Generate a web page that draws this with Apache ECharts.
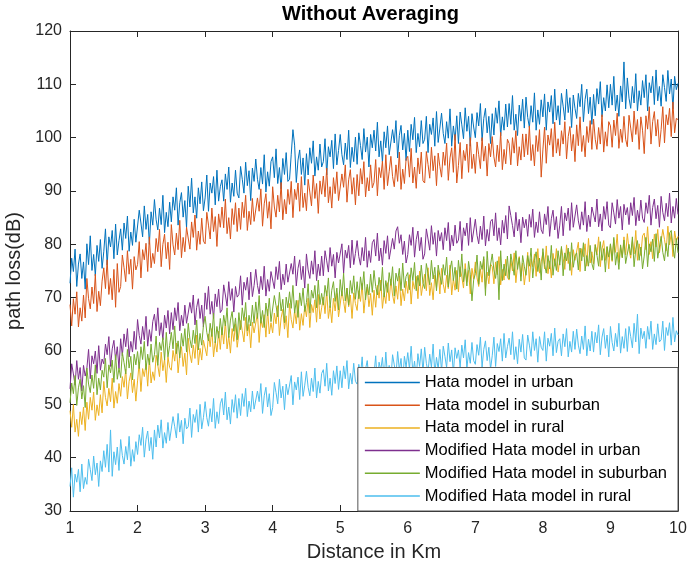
<!DOCTYPE html>
<html>
<head>
<meta charset="utf-8">
<title>Without Averaging</title>
<script src="https://cdn.jsdelivr.net/npm/echarts@6/dist/echarts.min.js"></script>
<style>
html, body { margin: 0; padding: 0; background: #fff; }
#chart { width: 687px; height: 573px; }
</style>
</head>
<body>
<div id="chart"></div>
<script>
// distance samples: 1 km to 10 km, every 0.025 km (361 points)
var distStart = 1, distStep = 0.025;

var seriesNames = ['Hata model in urban', 'Hata model in suburban', 'Hata model in rural',
    'Modified Hata model in urban', 'Modified Hata model in suburban', 'Modified Hata model in rural'];

// path loss (dB), one row per km
var hataUrban = [
    72.7, 77.4, 74.9, 79.1, 72.1, 76.3, 78.2, 73.6, 76.7, 71.6, 80.1, 76.2, 81.6, 75.1, 78.1, 74.1, 79.8, 76.8, 80.9, 75.5, 78.6, 82.9, 76.1, 81.4, 79.5, 82.6, 77.3, 83.8, 78.0, 80.7, 82.9, 78.9, 84.0, 81.1, 85.3, 78.7, 82.3, 79.8, 84.7, 80.4,
    80.5, 86.4, 84.0, 81.4, 87.2, 82.8, 85.6, 80.0, 86.1, 83.6, 88.4, 84.6, 82.7, 86.8, 83.7, 89.2, 82.2, 86.0, 83.3, 87.9, 84.2, 88.9, 86.4, 90.6, 83.6, 87.8, 89.7, 85.1, 88.2, 83.1, 90.9, 87.0, 92.4, 85.9, 88.9, 84.9, 90.6, 87.6, 91.7, 86.3,
    88.7, 93.0, 86.2, 91.5, 89.6, 92.7, 87.4, 93.9, 88.1, 90.8, 92.1, 88.1, 93.2, 90.3, 94.5, 87.9, 91.5, 89.0, 93.9, 89.6, 88.7, 94.6, 92.2, 89.6, 95.4, 91.0, 93.8, 88.2, 94.3, 91.8, 96.0, 92.2, 90.3, 94.4, 91.3, 96.8, 89.8, 93.6, 90.9, 95.5,
    96.4, 92.5, 97.9, 91.4, 94.4, 90.4, 96.1, 93.1, 97.2, 91.8, 92.2, 96.9, 101.5, 98.6, 91.6, 95.8, 97.7, 93.1, 96.2, 91.1, 97.0, 93.0, 98.1, 95.2, 99.4, 92.8, 96.4, 93.9, 98.8, 94.5, 95.5, 99.8, 93.0, 98.3, 96.4, 99.5, 94.2, 100.7, 94.9, 97.6,
    100.6, 96.8, 94.9, 99.0, 95.9, 101.4, 94.4, 98.2, 95.5, 100.1, 95.0, 100.9, 98.5, 95.9, 101.7, 97.3, 100.1, 94.5, 100.6, 98.1, 101.4, 97.5, 102.9, 96.4, 99.4, 95.4, 101.1, 98.1, 102.2, 96.8, 96.8, 101.5, 99.0, 103.2, 96.2, 100.4, 102.3, 97.7, 100.8, 95.7,
    101.4, 97.4, 102.5, 99.6, 103.8, 97.2, 100.8, 98.3, 103.2, 98.9, 99.7, 104.0, 97.2, 102.5, 100.6, 103.7, 98.4, 104.9, 99.1, 101.8, 104.6, 100.8, 98.9, 103.0, 99.9, 105.4, 98.4, 102.2, 99.5, 104.1, 98.9, 104.8, 102.4, 99.8, 105.6, 101.2, 104.0, 98.4, 104.5, 102.0,
    100.0, 104.7, 102.2, 106.4, 99.4, 103.6, 105.5, 100.9, 104.0, 98.9, 104.5, 100.5, 105.6, 102.7, 106.9, 100.3, 103.9, 101.4, 106.3, 102.0, 106.4, 102.5, 107.9, 101.4, 104.4, 100.4, 106.1, 103.1, 107.2, 101.8, 107.6, 103.8, 101.9, 106.0, 102.9, 108.4, 101.4, 105.2, 102.5, 107.1,
    103.9, 108.2, 101.4, 106.7, 104.8, 107.9, 102.6, 109.1, 103.3, 106.0, 102.4, 108.3, 105.9, 103.3, 109.1, 104.7, 107.5, 101.9, 108.0, 105.5, 103.6, 108.3, 105.8, 110.0, 103.0, 107.2, 109.1, 104.5, 107.6, 102.5, 108.1, 104.1, 109.2, 106.3, 110.5, 103.9, 107.5, 105.0, 109.9, 105.6,
    110.0, 106.1, 111.5, 105.0, 108.0, 104.0, 109.7, 106.7, 114.2, 105.4, 111.2, 107.4, 105.5, 109.6, 106.5, 112.0, 105.0, 108.8, 106.1, 110.7, 107.5, 111.8, 105.0, 110.3, 108.4, 111.5, 106.2, 112.7, 106.9, 109.6, 105.9, 111.8, 109.4, 106.8, 112.6, 108.2, 111.0, 105.4, 111.5, 109.0,
    110.2
];
var hataSuburban = [
    68.7, 64.7, 69.8, 66.9, 71.1, 64.5, 68.1, 65.6, 70.5, 66.2, 73.6, 69.8, 67.9, 72.0, 68.9, 74.4, 67.4, 71.2, 68.5, 73.1, 75.6, 71.7, 77.1, 70.6, 73.6, 69.6, 75.3, 68.2, 76.4, 71.0, 72.1, 78.0, 75.6, 73.0, 78.8, 74.4, 77.2, 71.6, 77.7, 75.2,
    76.2, 80.5, 73.7, 79.0, 77.1, 80.2, 74.9, 81.4, 75.6, 78.3, 76.4, 81.1, 78.6, 82.8, 75.8, 80.0, 81.9, 77.3, 80.4, 75.3, 83.7, 79.9, 78.0, 82.1, 79.0, 84.5, 77.5, 81.3, 78.6, 83.2, 83.1, 79.1, 84.2, 81.3, 85.5, 78.9, 82.5, 80.0, 84.9, 80.6,
    80.1, 86.0, 83.6, 81.0, 86.8, 82.4, 85.2, 79.6, 85.7, 83.2, 87.0, 83.1, 88.5, 82.0, 85.0, 81.0, 86.7, 83.7, 87.8, 82.4, 86.8, 82.8, 87.9, 85.0, 89.2, 82.6, 86.2, 83.7, 88.6, 84.3, 84.0, 88.7, 86.2, 90.4, 83.4, 87.6, 89.5, 84.9, 88.0, 82.9,
    90.8, 87.0, 85.1, 89.2, 86.1, 91.6, 84.6, 88.4, 85.7, 90.3, 87.5, 91.8, 85.0, 90.3, 88.4, 91.5, 86.2, 92.7, 86.9, 89.6, 86.3, 92.2, 89.8, 87.2, 93.0, 88.6, 91.4, 85.8, 91.9, 89.4, 92.8, 88.9, 94.3, 87.8, 90.8, 86.8, 92.5, 89.5, 93.6, 88.2,
    88.5, 93.2, 90.7, 94.9, 87.9, 92.1, 94.0, 89.4, 92.5, 87.4, 93.1, 89.1, 94.2, 91.3, 95.5, 88.9, 92.5, 90.0, 94.9, 90.6, 91.6, 95.9, 89.1, 94.4, 92.5, 95.6, 90.3, 96.8, 91.0, 93.7, 96.5, 92.7, 90.8, 94.9, 91.8, 97.3, 90.3, 94.1, 91.4, 96.0,
    96.5, 92.6, 98.0, 91.5, 94.5, 90.5, 96.2, 93.2, 97.3, 91.9, 91.5, 97.4, 95.0, 92.4, 98.2, 93.8, 96.6, 91.0, 97.1, 94.6, 92.6, 97.3, 94.8, 99.0, 92.0, 96.2, 98.1, 93.5, 100.6, 91.5, 94.8, 99.1, 92.3, 97.6, 95.7, 98.8, 93.5, 100.0, 94.2, 96.9,
    93.3, 99.2, 96.8, 94.2, 100.0, 95.6, 98.4, 92.8, 98.9, 96.4, 100.2, 96.4, 94.5, 98.6, 95.5, 101.0, 94.0, 97.8, 95.1, 99.7, 98.9, 94.9, 100.0, 97.1, 101.3, 94.7, 98.3, 95.8, 100.7, 96.4, 100.7, 96.8, 102.2, 95.7, 98.7, 94.7, 100.4, 97.4, 101.5, 92.6,
    97.7, 102.0, 95.2, 100.5, 98.6, 101.7, 96.4, 102.9, 97.1, 99.8, 96.6, 101.3, 98.8, 103.0, 96.0, 100.2, 102.1, 97.5, 100.6, 95.5, 102.4, 98.5, 103.9, 97.4, 100.4, 96.4, 102.1, 99.1, 103.2, 97.8, 103.5, 99.7, 97.8, 101.9, 98.8, 104.3, 97.3, 101.1, 98.4, 103.0,
    102.2, 98.2, 103.3, 100.4, 104.6, 98.0, 101.6, 99.1, 104.0, 99.7, 98.3, 104.2, 101.8, 99.2, 105.0, 100.6, 103.4, 97.8, 103.9, 101.4, 97.0, 104.1, 101.6, 105.8, 98.8, 103.0, 104.9, 100.3, 103.4, 98.3, 101.5, 105.8, 99.0, 104.3, 102.4, 105.5, 100.2, 106.7, 100.9, 103.6,
    103.4
];
var hataRural = [
    48.8, 45.7, 50.0, 44.8, 47.2, 44.0, 48.6, 46.2, 49.5, 45.1, 50.4, 47.2, 51.3, 48.9, 52.3, 47.0, 49.9, 47.9, 51.8, 48.4, 54.3, 51.3, 49.7, 53.0, 50.5, 54.9, 49.3, 52.4, 50.2, 53.9, 51.5, 55.2, 53.2, 56.6, 51.0, 54.3, 55.9, 52.2, 54.7, 50.6,
    54.4, 57.9, 52.4, 56.7, 55.2, 57.6, 53.4, 58.6, 54.0, 56.1, 54.5, 59.2, 57.3, 55.2, 59.8, 56.3, 58.5, 54.1, 58.9, 56.9, 56.4, 60.1, 58.1, 61.5, 55.9, 59.2, 60.8, 57.1, 59.6, 55.5, 62.4, 59.4, 57.8, 61.1, 58.6, 63.0, 57.4, 60.5, 58.3, 62.0,
    62.3, 59.1, 63.2, 60.8, 64.2, 58.9, 61.8, 59.8, 63.7, 60.3, 64.4, 61.3, 65.6, 60.4, 62.8, 59.6, 64.2, 61.8, 65.1, 60.7, 61.0, 65.7, 63.8, 61.7, 66.3, 62.8, 65.0, 60.6, 65.4, 63.4, 63.6, 67.1, 61.6, 65.9, 64.4, 66.8, 62.6, 67.8, 63.2, 65.3,
    63.4, 67.1, 65.1, 68.5, 62.9, 66.2, 67.8, 64.1, 66.6, 62.5, 68.9, 65.9, 64.3, 67.6, 65.1, 69.5, 63.9, 67.0, 64.8, 68.5, 66.4, 69.9, 64.4, 68.7, 67.2, 69.6, 65.4, 70.6, 66.0, 68.1, 70.1, 67.0, 71.3, 66.1, 68.5, 65.3, 69.9, 67.5, 70.8, 66.4,
    66.5, 71.2, 69.3, 67.2, 71.8, 68.3, 70.5, 66.1, 70.9, 68.9, 67.6, 71.3, 69.3, 72.7, 67.1, 70.4, 72.0, 68.3, 70.8, 66.7, 71.4, 68.2, 72.3, 69.9, 73.3, 68.0, 70.9, 68.9, 72.8, 69.4, 73.5, 70.5, 68.9, 72.2, 69.7, 74.1, 68.5, 71.6, 69.4, 73.1,
    70.8, 74.3, 68.8, 73.1, 71.6, 74.0, 69.8, 75.0, 70.4, 72.5, 74.4, 71.3, 75.6, 70.4, 72.8, 69.6, 74.2, 71.8, 75.1, 70.7, 75.5, 72.5, 70.9, 74.2, 71.7, 76.1, 70.5, 73.6, 71.4, 75.1, 71.1, 75.8, 73.9, 71.8, 76.4, 72.9, 75.1, 70.7, 75.5, 73.5,
    76.7, 73.7, 72.1, 75.4, 72.9, 77.3, 71.7, 74.8, 72.6, 76.3, 75.8, 72.6, 76.7, 74.3, 77.7, 72.4, 75.3, 73.3, 77.2, 73.8, 73.3, 77.0, 75.0, 78.4, 72.8, 76.1, 77.7, 74.0, 76.5, 72.4, 75.0, 78.5, 73.0, 77.3, 75.8, 78.2, 74.0, 79.2, 74.6, 76.7,
    78.5, 75.4, 79.7, 74.5, 76.9, 73.7, 78.3, 75.9, 79.2, 74.8, 74.6, 79.3, 77.4, 75.3, 79.9, 76.4, 78.6, 74.2, 79.0, 77.0, 76.9, 80.4, 74.9, 79.2, 77.7, 80.1, 75.9, 81.1, 76.5, 78.6, 76.3, 80.0, 78.0, 81.4, 75.8, 79.1, 80.7, 77.0, 79.5, 75.4,
    80.0, 76.8, 80.9, 78.5, 81.9, 76.6, 79.5, 77.5, 81.4, 78.0, 82.0, 79.0, 77.4, 80.7, 78.2, 82.6, 77.0, 80.1, 77.9, 81.6, 82.1, 79.0, 83.3, 78.1, 80.5, 77.3, 81.9, 79.5, 82.8, 78.4, 78.1, 82.8, 80.9, 78.8, 83.4, 79.9, 82.1, 77.7, 82.5, 80.5,
    81.5
];
var modUrban = [
    52.9, 57.6, 55.7, 53.6, 58.2, 54.7, 56.9, 52.5, 57.3, 55.3, 56.8, 60.3, 54.8, 59.1, 57.6, 60.0, 55.8, 61.0, 56.4, 58.5, 57.6, 61.3, 59.3, 62.7, 57.1, 60.4, 62.0, 58.3, 60.8, 56.7, 62.3, 59.1, 63.2, 60.8, 64.2, 58.9, 61.8, 59.8, 63.7, 60.3,
    65.9, 62.9, 61.3, 64.6, 62.1, 66.5, 60.9, 64.0, 61.8, 65.5, 66.9, 63.8, 68.1, 62.9, 65.3, 62.1, 66.7, 64.3, 67.6, 63.2, 67.2, 64.0, 68.1, 65.7, 69.1, 63.8, 66.7, 64.7, 68.6, 65.2, 65.4, 69.1, 67.1, 70.5, 64.9, 68.2, 69.8, 66.1, 68.6, 64.5,
    70.9, 67.8, 72.1, 66.9, 69.3, 66.1, 70.7, 68.3, 71.6, 67.2, 67.7, 72.4, 70.5, 68.4, 73.0, 69.5, 71.7, 67.3, 72.1, 70.1, 70.6, 74.1, 68.6, 72.9, 71.4, 73.8, 69.6, 74.8, 70.2, 72.3, 75.3, 72.3, 70.7, 74.0, 71.5, 75.9, 70.3, 73.4, 71.2, 74.9,
    74.9, 71.7, 75.8, 73.4, 76.8, 71.5, 74.4, 72.4, 76.3, 72.9, 72.7, 76.4, 74.4, 77.8, 72.2, 75.5, 77.1, 73.4, 75.9, 71.8, 78.2, 75.2, 73.6, 76.9, 74.4, 78.8, 73.2, 76.3, 74.1, 77.8, 74.1, 78.8, 76.9, 74.8, 79.4, 75.9, 78.1, 73.7, 78.5, 76.5,
    76.6, 80.1, 74.6, 78.9, 77.4, 79.8, 75.6, 80.8, 76.2, 78.3, 80.7, 77.7, 76.1, 79.4, 76.9, 81.3, 75.7, 78.8, 76.6, 80.3, 80.9, 77.8, 82.1, 76.9, 79.3, 76.1, 80.7, 78.3, 81.6, 77.2, 77.4, 81.1, 79.1, 82.5, 83.3, 80.2, 81.8, 78.1, 80.6, 76.5,
    78.1, 81.8, 79.8, 83.2, 77.6, 80.9, 82.5, 78.8, 81.3, 77.2, 78.2, 82.9, 81.0, 78.9, 83.5, 80.0, 82.2, 77.8, 82.6, 80.6, 82.2, 79.0, 83.1, 80.7, 84.1, 78.8, 81.7, 79.7, 83.6, 80.2, 80.8, 84.3, 78.8, 83.1, 81.6, 84.0, 79.8, 85.0, 80.4, 82.5,
    84.7, 81.7, 80.1, 83.4, 80.9, 85.3, 79.7, 82.8, 80.6, 84.3, 84.7, 81.6, 85.9, 80.7, 83.1, 79.9, 84.5, 82.1, 85.4, 81.0, 87.2, 85.4, 83.5, 81.4, 86.0, 82.5, 84.7, 80.3, 85.1, 83.1, 84.7, 81.5, 85.6, 83.2, 86.6, 81.3, 84.2, 82.2, 86.1, 82.7,
    82.0, 85.7, 83.7, 87.1, 81.5, 84.8, 86.4, 82.7, 85.2, 81.1, 83.6, 87.1, 81.6, 85.9, 84.4, 86.8, 82.6, 87.8, 83.2, 85.3, 87.4, 84.4, 82.8, 86.1, 83.6, 88.0, 82.4, 85.5, 83.3, 87.0, 87.3, 84.2, 88.5, 83.3, 85.7, 82.5, 87.1, 84.7, 88.0, 83.6,
    83.1, 87.8, 85.9, 83.8, 88.4, 84.9, 87.1, 82.7, 87.5, 85.5, 86.9, 83.7, 87.8, 85.4, 88.8, 83.5, 86.4, 84.4, 88.3, 84.9, 84.1, 87.8, 85.8, 89.2, 83.6, 86.9, 88.5, 84.8, 87.3, 83.2, 89.0, 86.0, 84.4, 87.7, 85.2, 89.6, 84.0, 87.1, 84.9, 88.6,
    85.6
];
var modSuburban = [
    50.3, 54.0, 52.0, 55.4, 49.8, 53.1, 54.7, 51.0, 53.5, 49.4, 56.8, 53.8, 52.2, 55.5, 53.0, 57.4, 51.8, 54.9, 52.7, 56.4, 55.1, 58.6, 53.1, 57.4, 55.9, 58.3, 54.1, 59.3, 54.7, 56.8, 55.0, 59.7, 57.8, 55.7, 60.3, 56.8, 59.0, 54.6, 59.4, 57.4,
    59.9, 56.7, 60.8, 58.4, 61.8, 56.5, 59.4, 57.4, 61.3, 57.9, 59.3, 62.8, 57.3, 61.6, 60.1, 62.5, 58.3, 63.5, 58.9, 61.0, 63.5, 60.4, 64.7, 59.5, 61.9, 58.7, 63.3, 60.9, 64.2, 59.8, 65.2, 62.2, 60.6, 63.9, 61.4, 65.8, 60.2, 63.3, 61.1, 64.8,
    66.5, 63.5, 61.9, 65.2, 62.7, 67.1, 61.5, 64.6, 62.4, 66.1, 63.0, 66.7, 64.7, 68.1, 62.5, 65.8, 67.4, 63.7, 66.2, 62.1, 67.2, 64.0, 68.1, 65.7, 69.1, 63.8, 66.7, 64.7, 68.6, 65.2, 69.2, 66.1, 70.4, 65.2, 67.6, 64.4, 69.0, 66.6, 69.9, 65.5,
    65.7, 70.4, 68.5, 66.4, 71.0, 67.5, 69.7, 65.3, 70.1, 68.1, 71.1, 68.0, 72.3, 67.1, 69.5, 66.3, 70.9, 68.5, 71.8, 67.4, 69.1, 72.6, 67.1, 71.4, 69.9, 72.3, 68.1, 73.3, 68.7, 70.8, 68.6, 72.3, 70.3, 73.7, 68.1, 71.4, 73.0, 69.3, 71.8, 67.7,
    73.4, 70.3, 74.6, 69.4, 71.8, 68.6, 73.2, 70.8, 74.1, 69.7, 73.0, 69.8, 73.9, 71.5, 74.9, 69.6, 72.5, 70.5, 74.4, 71.0, 75.1, 72.1, 70.5, 73.8, 71.3, 75.7, 70.1, 73.2, 71.0, 74.7, 72.3, 75.8, 70.3, 74.6, 73.1, 75.5, 71.3, 76.5, 71.9, 74.0,
    74.7, 71.5, 75.6, 73.2, 76.6, 71.3, 74.2, 72.2, 76.1, 72.7, 71.7, 76.4, 74.5, 72.4, 77.0, 73.5, 75.7, 71.3, 76.1, 74.1, 72.5, 76.2, 74.2, 77.6, 72.0, 75.3, 76.9, 73.2, 75.7, 71.6, 77.0, 73.9, 78.2, 73.0, 75.4, 72.2, 76.8, 74.4, 69.4, 73.3,
    74.5, 78.0, 72.5, 76.8, 75.3, 77.7, 70.4, 78.7, 74.1, 76.2, 78.2, 75.2, 73.6, 76.9, 69.6, 78.8, 73.2, 76.3, 74.1, 77.8, 73.5, 78.2, 76.3, 74.2, 78.8, 75.3, 77.5, 73.1, 77.9, 75.9, 74.2, 77.9, 75.9, 79.3, 73.7, 77.0, 78.6, 74.9, 77.4, 73.3,
    79.2, 76.2, 74.6, 77.9, 75.4, 79.8, 74.2, 77.3, 75.1, 78.8, 76.1, 79.6, 74.1, 78.4, 76.9, 79.3, 75.1, 80.3, 75.7, 77.8, 78.4, 75.2, 79.3, 76.9, 80.3, 75.0, 77.9, 75.9, 79.8, 76.4, 75.2, 79.9, 78.0, 75.9, 80.5, 77.0, 79.2, 74.8, 79.6, 77.6,
    80.1, 77.0, 81.3, 76.1, 78.5, 75.3, 79.9, 77.5, 80.8, 76.4, 76.3, 80.0, 78.0, 81.4, 75.8, 79.1, 80.7, 77.0, 79.5, 75.4, 77.8, 81.3, 75.8, 80.1, 78.6, 81.0, 76.8, 82.0, 77.4, 79.5, 81.5, 78.5, 76.9, 80.2, 77.7, 82.1, 82.6, 79.6, 77.4, 81.1,
    78.4
];
var modRural = [
    34.6, 38.1, 32.6, 36.9, 35.4, 37.8, 33.6, 38.8, 34.2, 36.3, 35.0, 39.7, 37.8, 35.7, 40.3, 36.8, 39.0, 34.6, 39.4, 37.4, 41.3, 38.2, 42.5, 37.3, 45.2, 36.5, 41.1, 38.7, 42.0, 37.6, 43.4, 40.4, 38.8, 42.1, 39.6, 44.0, 38.4, 41.5, 39.3, 43.0,
    40.6, 44.3, 42.3, 45.7, 40.1, 43.4, 45.0, 41.3, 43.8, 39.7, 45.2, 42.0, 46.1, 43.7, 47.1, 41.8, 44.7, 42.7, 46.6, 43.2, 43.0, 47.7, 45.8, 43.7, 48.3, 44.8, 47.0, 42.6, 47.4, 45.4, 45.8, 49.3, 43.8, 48.1, 46.6, 49.0, 44.8, 50.0, 45.4, 47.5,
    50.5, 47.5, 45.9, 49.2, 46.7, 51.1, 45.5, 48.6, 46.4, 50.1, 51.1, 48.0, 52.3, 47.1, 49.5, 46.3, 50.9, 48.5, 51.8, 47.4, 51.1, 47.9, 52.0, 49.6, 53.0, 47.7, 50.6, 48.6, 52.5, 49.1, 48.8, 52.5, 50.5, 53.9, 48.3, 51.6, 53.2, 49.5, 52.0, 47.9,
    49.4, 54.1, 52.2, 50.1, 54.7, 51.2, 53.4, 49.0, 53.8, 51.8, 51.9, 55.4, 49.9, 54.2, 52.7, 55.1, 50.9, 56.1, 51.5, 53.6, 56.2, 53.2, 51.6, 54.9, 52.4, 56.8, 51.2, 54.3, 52.1, 55.8, 56.5, 53.4, 57.7, 52.5, 54.9, 51.7, 56.3, 53.9, 57.2, 52.8,
    56.3, 53.1, 57.2, 54.8, 58.2, 52.9, 55.8, 53.8, 57.7, 54.3, 53.8, 57.5, 55.5, 58.9, 53.3, 56.6, 58.2, 54.5, 57.0, 52.9, 55.6, 59.1, 53.6, 57.9, 56.4, 58.8, 54.6, 59.8, 55.2, 57.3, 54.6, 59.3, 57.4, 55.3, 59.9, 56.4, 58.6, 54.2, 59.0, 57.0,
    59.7, 56.6, 60.9, 55.7, 58.1, 54.9, 59.5, 57.1, 60.4, 56.0, 60.7, 57.7, 56.1, 59.4, 56.9, 61.3, 55.7, 58.8, 56.6, 60.3, 56.2, 60.9, 59.0, 56.9, 61.5, 58.0, 60.2, 55.8, 60.6, 58.6, 60.2, 57.0, 61.1, 58.7, 62.1, 56.8, 59.7, 57.7, 61.6, 58.2,
    57.5, 61.2, 59.2, 62.6, 57.0, 60.3, 61.9, 58.2, 60.7, 56.6, 59.1, 62.6, 57.1, 61.4, 59.9, 62.3, 58.1, 63.3, 58.7, 60.8, 62.4, 59.3, 63.6, 58.4, 60.8, 57.6, 62.2, 59.8, 63.1, 58.7, 58.3, 63.0, 61.1, 59.0, 63.6, 60.1, 62.3, 57.9, 62.7, 60.7,
    60.1, 63.6, 58.1, 62.4, 60.9, 63.3, 59.1, 64.3, 59.7, 61.8, 62.3, 59.1, 63.2, 60.8, 64.2, 58.9, 61.8, 59.8, 63.7, 60.3, 64.1, 61.1, 59.5, 62.8, 60.3, 64.7, 59.1, 62.2, 60.0, 63.7, 59.8, 63.5, 61.5, 64.9, 59.3, 62.6, 64.2, 60.5, 63.0, 58.9,
    64.6, 61.6, 60.0, 63.3, 60.8, 65.2, 59.6, 62.7, 60.5, 64.2, 59.9, 64.6, 62.7, 60.6, 65.2, 61.7, 66.9, 59.5, 64.3, 62.3, 63.7, 60.5, 64.6, 62.2, 65.6, 60.3, 63.2, 61.2, 65.1, 61.7, 62.1, 65.6, 60.1, 64.4, 62.9, 65.3, 61.1, 66.3, 61.7, 63.8,
    63.0
];

var lineColors = ['#0072BD', '#D95319', '#EDB120', '#7E2F8E', '#77AC30', '#4DBEEE'];
var allValues = [hataUrban, hataSuburban, hataRural, modUrban, modSuburban, modRural];

var FONT = 'Liberation Sans, Arial, Helvetica, sans-serif';
var INK = '#262626';

function toPairs(vals) {
    var out = [];
    for (var i = 0; i < vals.length; i++) {
        out.push([+(distStart + i * distStep).toFixed(3), vals[i]]);
    }
    return out;
}

var series = [];
for (var s = 0; s < allValues.length; s++) {
    series.push({
        name: seriesNames[s],
        type: 'line',
        data: toPairs(allValues[s]),
        showSymbol: false,
        symbol: 'none',
        silent: true,
        animation: false,
        lineStyle: { width: 1, color: lineColors[s] },
        itemStyle: { color: lineColors[s] }
    });
}

var boxAxisLine = { show: true, onZero: false, lineStyle: { color: INK, width: 1 } };
var boxTick = { show: true, inside: true, length: 6, lineStyle: { color: INK } };

var myChart = echarts.init(document.getElementById('chart'));
var option = {
    backgroundColor: '#ffffff',
    animation: false,
    title: {
        text: 'Without Averaging',
        left: 282,
        top: 4,
        padding: 0,
        textStyle: { fontFamily: FONT, fontSize: 20, fontWeight: 'bold', color: '#000' }
    },
    legend: {
        orient: 'vertical',
        right: 9,
        bottom: 62,
        data: seriesNames,
        icon: 'rect',
        itemWidth: 55,
        itemHeight: 1.5,
        itemGap: 4.7,
        padding: [6, 11, 6, 7],
        backgroundColor: '#ffffff',
        borderColor: '#555555',
        borderWidth: 1,
        borderRadius: 0,
        textStyle: { fontFamily: FONT, fontSize: 16.5, color: '#000', lineHeight: 18 }
    },
    grid: { left: 70, right: 9, top: 31, bottom: 62, containLabel: false, outerBoundsMode: 'none' },
    xAxis: [{
        type: 'value',
        min: 1, max: 10, interval: 1,
        name: 'Distance in Km',
        nameLocation: 'middle',
        nameGap: 31,
        nameTextStyle: { fontFamily: FONT, fontSize: 20, color: INK },
        axisLine: boxAxisLine,
        axisTick: boxTick,
        splitLine: { show: false },
        axisLabel: { fontFamily: FONT, fontSize: 16, color: INK, margin: 10 }
    }, {
        type: 'value',
        position: 'top',
        min: 1, max: 10, interval: 1,
        axisLine: boxAxisLine,
        axisTick: boxTick,
        splitLine: { show: false },
        axisLabel: { show: false }
    }],
    yAxis: [{
        type: 'value',
        min: 30, max: 120, interval: 10,
        name: 'path loss(dB)',
        nameLocation: 'middle',
        nameGap: 37,
        nameTextStyle: { fontFamily: FONT, fontSize: 20, color: INK },
        axisLine: boxAxisLine,
        axisTick: boxTick,
        splitLine: { show: false },
        axisLabel: { fontFamily: FONT, fontSize: 16, color: INK, margin: 8 }
    }, {
        type: 'value',
        position: 'right',
        min: 30, max: 120, interval: 10,
        axisLine: boxAxisLine,
        axisTick: boxTick,
        splitLine: { show: false },
        axisLabel: { show: false }
    }],
    series: series
};
myChart.setOption(option);
</script>
</body>
</html>
